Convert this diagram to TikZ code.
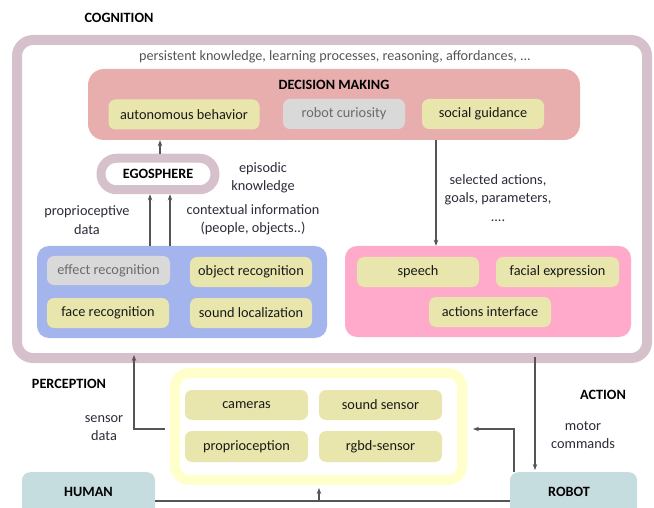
\documentclass[tikz,border=0pt]{standalone}
\usepackage{fontspec}
\setmainfont{Carlito}
\usetikzlibrary{arrows.meta}
\definecolor{framemauve}{HTML}{D6C0CC}
\definecolor{dmpink}{HTML}{E8AEAE}
\definecolor{boxyellow}{HTML}{E8E6AC}
\definecolor{boxgray}{HTML}{D9D9D9}
\definecolor{percblue}{HTML}{A3B5EC}
\definecolor{actpink}{HTML}{FFAACA}
\definecolor{tealbox}{HTML}{C6DDDF}
\definecolor{sensyellow}{HTML}{FFFFCC}
\definecolor{arrgray}{HTML}{555555}
\definecolor{labtext}{HTML}{2E2A38}
\definecolor{graytext}{HTML}{6B6B6B}
\tikzset{
  ybox/.style={fill=boxyellow, rounded corners=7pt, minimum width=122pt, minimum height=30pt, inner sep=0pt, text=black!90, font=\fontsize{14.3}{16}\selectfont},
  gbox/.style={ybox, fill=boxgray, text=graytext},
  lab/.style={text=labtext, align=center, font=\fontsize{14.3}{18.5}\selectfont, inner sep=0pt},
  title/.style={text=black, font=\bfseries\fontsize{14.2}{16}\selectfont, inner sep=0pt},
  arr/.style={draw=arrgray, line width=1.3pt, -{Stealth[length=6pt,width=4.5pt]}},
  ln/.style={draw=arrgray, line width=1.3pt},
}
\begin{document}
\begin{tikzpicture}[x=1pt,y=-1pt]
\useasboundingbox (0,0) rectangle (654,508);
% cognition frame
\node (cog) [draw=framemauve, line width=10pt, rounded corners=16pt, minimum width=630pt, minimum height=318pt, inner sep=0pt] at (332,199) {};
\node (cogl) [title] at (119,18) {COGNITION};
\node (pers) [lab, text=graytext!80!black, font=\fontsize{14.2}{16}\selectfont] at (335,57) {persistent knowledge, learning processes, reasoning, affordances, ...};
% decision making
\node (dm) [fill=dmpink, rounded corners=16pt, minimum width=492pt, minimum height=71pt, inner sep=0pt] at (334,104.5) {};
\node (dml) [title] at (334,85) {DECISION MAKING};
\node (auto) [ybox, minimum width=151pt] at (184,114.5) {autonomous behavior};
\node (curio) [gbox] at (344,114) {robot curiosity};
\node (social) [ybox] at (483,114) {social guidance};
% egosphere
\node (ego) [draw=framemauve, line width=9pt, fill=white, rounded corners=15.5pt, minimum width=114pt, minimum height=31.5pt, inner sep=0pt, font=\bfseries\fontsize{14.2}{16}\selectfont] at (158,174) {EGOSPHERE};
\node (epi) [lab] at (263,178) {episodic\\knowledge};
\node (prop) [lab] at (87,220) {proprioceptive\\data};
\node (ctx) [lab] at (253,220) {contextual information\\(people, objects..)};
\node (sel) [lab] at (498,198) {selected actions,\\goals, parameters,\\....};
% perception box
\node (perc) [fill=percblue, rounded corners=12pt, minimum width=290pt, minimum height=92pt, inner sep=0pt] at (182,292) {};
\node (effect) [gbox, minimum width=123pt, minimum height=29pt] at (108.5,270.5) {effect recognition};
\node (objrec) [ybox] at (251,272) {object recognition};
\node (face) [ybox] at (108,313) {face recognition};
\node (sndloc) [ybox] at (251,313) {sound localization};
% action box
\node (act) [fill=actpink, rounded corners=12pt, minimum width=286pt, minimum height=91pt, inner sep=0pt] at (488,291.5) {};
\node (speech) [ybox] at (418,272) {speech};
\node (facial) [ybox, minimum width=123pt] at (557.5,272) {facial expression};
\node (actif) [ybox] at (490,312) {actions interface};
% lower area
\node (percl) [title] at (69,384) {PERCEPTION};
\node (actl) [title] at (603,395) {ACTION};
\node (sdata) [lab] at (104,428) {sensor\\data};
\node (motor) [lab] at (583,435) {motor\\commands};
\node (sens) [draw=sensyellow, line width=10pt, rounded corners=14pt, minimum width=287pt, minimum height=107pt, inner sep=0pt] at (318.5,426.5) {};
\node (cam) [ybox, minimum width=123pt] at (246.5,405) {cameras};
\node (sndsens) [ybox, minimum width=123pt] at (380.5,405) {sound sensor};
\node (propc) [ybox, minimum width=123pt, minimum height=31pt] at (246.5,446.5) {proprioception};
\node (rgbd) [ybox, minimum width=123pt, minimum height=31pt] at (380.5,446.5) {rgbd-sensor};
\node (human) [fill=tealbox, rounded corners=8pt, anchor=north, minimum width=133pt, inner xsep=0pt, inner ysep=14.5pt, text height=10pt, text depth=24pt, font=\bfseries\fontsize{14.2}{16}\selectfont] at (88.5,472) {HUMAN};
\node (robot) [fill=tealbox, rounded corners=8pt, anchor=north, minimum width=127pt, inner xsep=0pt, inner ysep=14.5pt, text height=10pt, text depth=24pt, font=\bfseries\fontsize{14.2}{16}\selectfont] at (573.5,472) {\hspace*{-9pt}ROBOT};
% helper coordinates
\coordinate (xa) at (150,0);
\coordinate (xb) at (170,0);
\coordinate (xc) at (160,0);
\coordinate (xd) at (436,0);
\coordinate (xe) at (134,429);
\coordinate (xf) at (535,0);
\coordinate (xg) at (514,429);
\coordinate (ly) at (0,501);
\coordinate (xm) at (319,501);
% connectors
\draw[arr] (ego.north -| xc) -- (dm.south -| xc);
\draw[arr] (perc.north -| xa) -- (ego.south -| xa);
\draw[arr] (perc.north -| xb) -- (ego.south -| xb);
\draw[arr] (dm.south -| xd) -- (act.north -| xd);
\draw[arr, shorten <=5pt] (sens.west |- xe) -- (xe) -- ([yshift=8pt]cog.south -| xe);
\draw[arr, shorten >=2pt] ([yshift=6pt]cog.south -| xf) -- (robot.north -| xf);
\draw[arr, shorten >=6pt] (robot.north -| xg) -- (xg) -- (sens.east |- xg);
\draw[ln] (human.east |- ly) -- (robot.west |- ly);
\draw[arr, shorten >=3pt] (xm) -- (sens.south -| xm);
\end{tikzpicture}
\end{document}
